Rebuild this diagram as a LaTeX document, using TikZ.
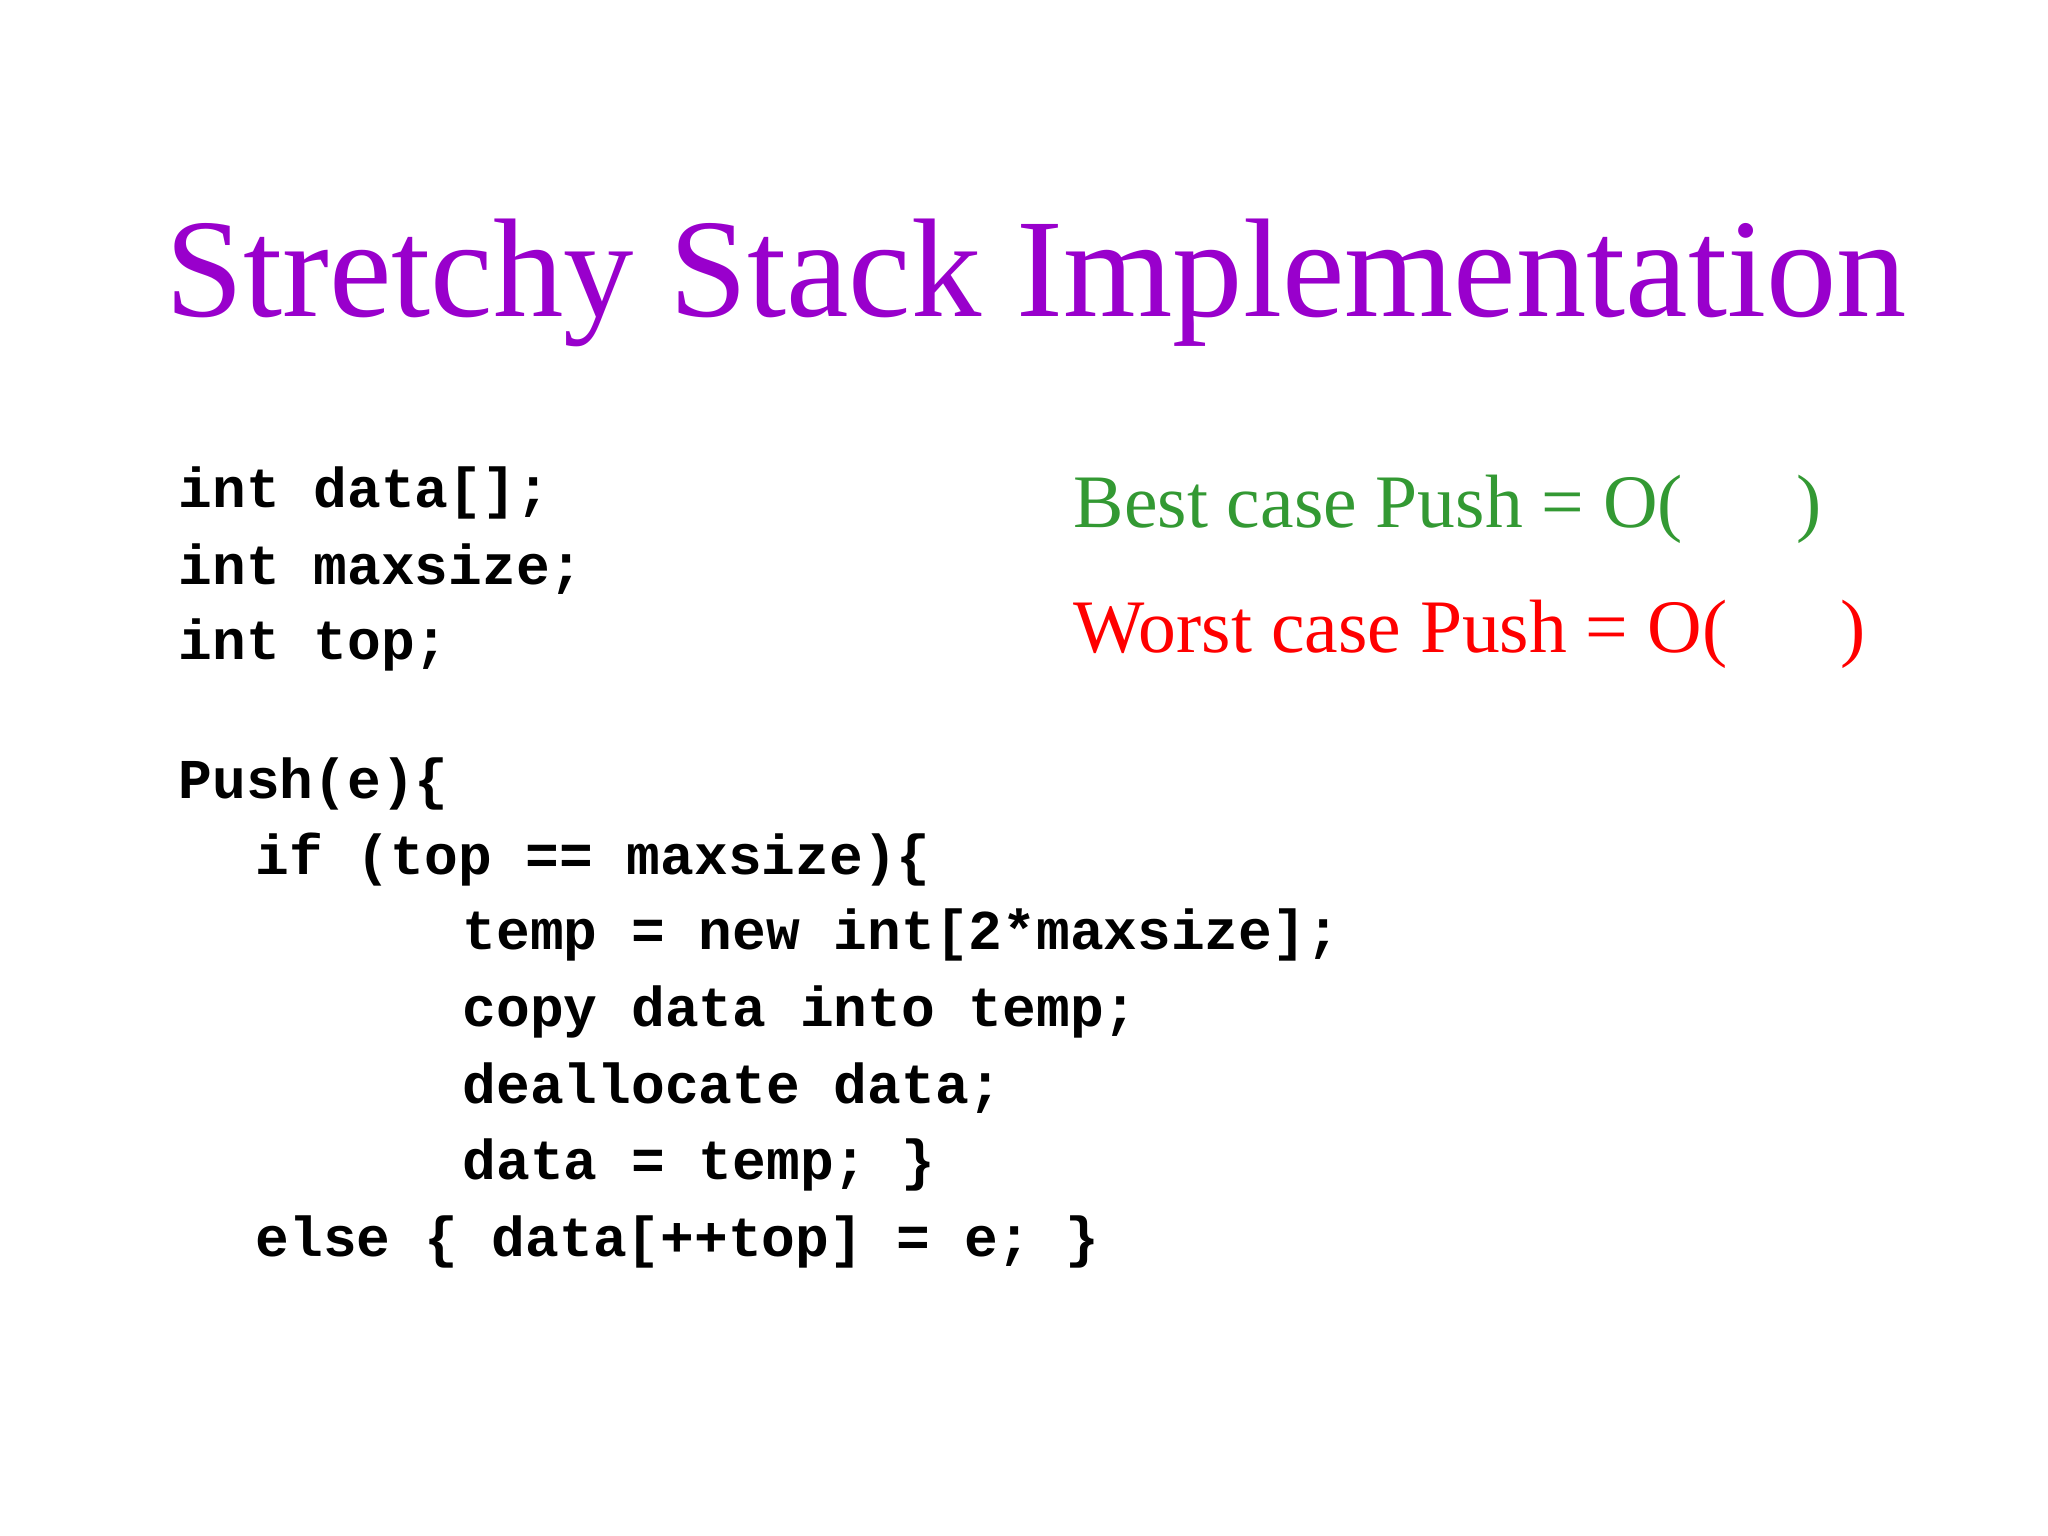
\documentclass[tikz,border=0pt]{standalone}
\usepackage{fontspec}
\setmainfont{Liberation Serif}
\setmonofont{Liberation Mono}
\begin{document}
\begin{tikzpicture}[x=1cm,y=1cm,
  code/.style={anchor=base west,inner sep=0pt,font=\fontsize{16}{19}\selectfont\ttfamily\bfseries},
  note/.style={anchor=base west,inner sep=0pt,font=\fontsize{21.5}{26}\selectfont}]
\definecolor{titlec}{RGB}{153,0,204}
\definecolor{greenc}{RGB}{51,153,51}
\useasboundingbox[fill=white] (0,0) rectangle (20.48,15.36);
\node[anchor=base,inner sep=0pt,font=\fontsize{40}{48}\selectfont,text=titlec] (title) at (10.36,12.19) {Stretchy Stack Implementation};
\node[code] (l1) at (1.78,10.28) {int data[];};
\node[code] (l2) at (1.78,9.51) {int maxsize;};
\node[code] (l3) at (1.78,8.76) {int top;};
\node[code] (l4) at (1.78,7.37) {Push(e)\{};
\node[code] (l5) at (2.55,6.61) {if (top == maxsize)\{};
\node[code] (l6) at (4.62,5.86) {temp = new int[2*maxsize];};
\node[code] (l7) at (4.62,5.09) {copy data into temp;};
\node[code] (l8) at (4.62,4.32) {deallocate data;};
\node[code] (l9) at (4.62,3.56) {data = temp; \}};
\node[code] (l10) at (2.55,2.79) {else \{ data[++top] = e; \}};
\node[note,text=greenc] (best) at (10.73,10.08) {Best case Push = O(\hspace{1.5em})};
\node[note,text=red] (worst) at (10.73,8.83) {Worst case Push = O(\hspace{1.5em})};
\end{tikzpicture}
\end{document}
